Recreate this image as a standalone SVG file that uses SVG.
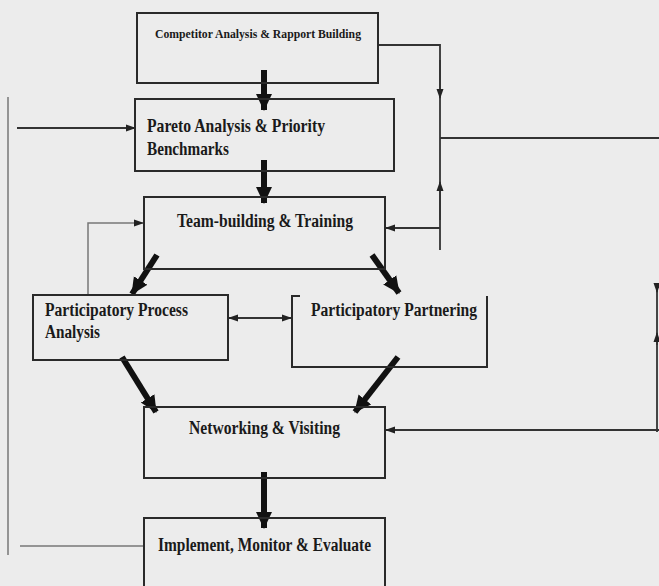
<svg xmlns="http://www.w3.org/2000/svg" width="659" height="586" viewBox="0 0 659 586">
<defs>
<style>
.box{fill:none;stroke:#2a2a2a;stroke-width:2}
.t{font-family:"Liberation Serif","Times New Roman",serif;font-weight:bold;fill:#1a1a1a}
.thin{fill:none;stroke:#333;stroke-width:1.8}
.faint{fill:none;stroke:#777;stroke-width:1.5}
.thick{fill:none;stroke:#111;stroke-width:6}
</style>
<marker id="big" markerUnits="userSpaceOnUse" markerWidth="18" markerHeight="18" viewBox="0 0 18 18" refX="16" refY="9" orient="auto">
<path d="M0,1 L17,9 L0,17 Z" fill="#111"/>
</marker>
<marker id="sm" markerUnits="userSpaceOnUse" markerWidth="10" markerHeight="8" viewBox="0 0 10 8" refX="9" refY="4" orient="auto">
<path d="M0,0.5 L10,4 L0,7.5 Z" fill="#222"/>
</marker>
<marker id="smS" markerUnits="userSpaceOnUse" markerWidth="10" markerHeight="8" viewBox="0 0 10 8" refX="1" refY="4" orient="auto">
<path d="M10,0.5 L0,4 L10,7.5 Z" fill="#222"/>
</marker>
</defs>
<rect width="659" height="586" fill="#ececec"/>

<g id="connectors">
<!-- thick arrows -->
<line class="thick" x1="264" y1="70" x2="264" y2="110" marker-end="url(#big)"/>
<line class="thick" x1="264" y1="160" x2="264" y2="203" marker-end="url(#big)"/>
<line class="thick" x1="157" y1="255" x2="132" y2="294" marker-end="url(#big)"/>
<line class="thick" x1="372" y1="255" x2="399" y2="293" marker-end="url(#big)"/>
<line class="thick" x1="122" y1="357" x2="156" y2="412" marker-end="url(#big)"/>
<line class="thick" x1="398" y1="357" x2="355" y2="412" marker-end="url(#big)"/>
<line class="thick" x1="264" y1="472" x2="264" y2="528" marker-end="url(#big)"/>
<!-- right feedback -->
<polyline class="thin" points="378,45 440,45 440,250"/>
<line class="thin" x1="440" y1="60" x2="440" y2="98" marker-end="url(#sm)"/>
<line class="thin" x1="440" y1="220" x2="440" y2="182" marker-end="url(#sm)"/>
<line class="thin" x1="440" y1="138" x2="659" y2="138"/>
<line class="thin" x1="440" y1="228" x2="386" y2="228" marker-end="url(#sm)"/>
<line class="thin" x1="657" y1="283" x2="657" y2="432"/>
<line class="thin" x1="657" y1="283" x2="657" y2="292" marker-end="url(#sm)"/>
<line class="thin" x1="657" y1="345" x2="657" y2="333" marker-end="url(#sm)"/>
<line class="thin" x1="659" y1="430" x2="386" y2="430" marker-end="url(#sm)"/>
<!-- left -->
<line class="faint" x1="8" y1="97" x2="8" y2="555"/>
<line class="thin" x1="17" y1="128" x2="135" y2="128" marker-end="url(#sm)"/>
<line class="faint" x1="20" y1="546" x2="144" y2="546"/>
<polyline class="faint" points="88,295 88,223 143,223" marker-end="url(#sm)"/>
<!-- between participatory boxes -->
<line class="thin" x1="229" y1="318" x2="291" y2="318" marker-start="url(#smS)" marker-end="url(#sm)"/>
</g>

<g id="competitor">
<rect class="box" x="137" y="13" width="241" height="70"/>
<text class="t" x="258" y="38" font-size="13" text-anchor="middle" textLength="206" lengthAdjust="spacingAndGlyphs">Competitor Analysis &amp; Rapport Building</text>
</g>
<g id="pareto">
<rect class="box" x="135" y="99" width="259" height="72"/>
<text class="t" x="147" y="132" font-size="19" textLength="178" lengthAdjust="spacingAndGlyphs">Pareto Analysis &amp; Priority</text>
<text class="t" x="147" y="155" font-size="19" textLength="82" lengthAdjust="spacingAndGlyphs">Benchmarks</text>
</g>
<g id="team">
<rect class="box" x="144" y="197" width="241" height="72"/>
<text class="t" x="177" y="227" font-size="18" textLength="176" lengthAdjust="spacingAndGlyphs">Team-building &amp; Training</text>
</g>
<g id="process">
<rect class="box" x="33" y="295" width="195" height="65"/>
<text class="t" x="45" y="316" font-size="18" textLength="143" lengthAdjust="spacingAndGlyphs">Participatory Process</text>
<text class="t" x="45" y="338" font-size="18" textLength="55" lengthAdjust="spacingAndGlyphs">Analysis</text>
</g>
<g id="partnering">
<path class="box" d="M300,296 L292,296 L292,367 L487,367 L487,296"/>
<text class="t" x="311" y="316" font-size="18" textLength="166" lengthAdjust="spacingAndGlyphs">Participatory Partnering</text>
</g>
<g id="networking">
<rect class="box" x="144" y="407" width="241" height="71"/>
<text class="t" x="189" y="434" font-size="18" textLength="151" lengthAdjust="spacingAndGlyphs">Networking &amp; Visiting</text>
</g>
<g id="implement">
<path class="box" d="M144,590 L144,518 L385,518 L385,590"/>
<text class="t" x="158" y="551" font-size="18" textLength="213" lengthAdjust="spacingAndGlyphs">Implement, Monitor &amp; Evaluate</text>
</g>
</svg>
